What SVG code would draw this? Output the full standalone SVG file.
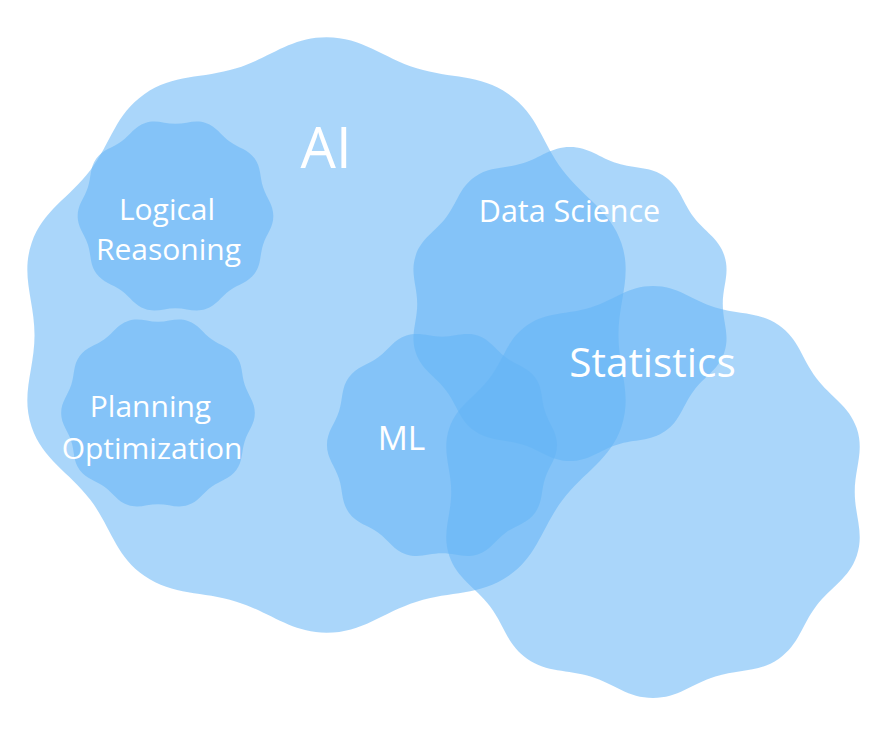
<svg xmlns="http://www.w3.org/2000/svg" xmlns:xlink="http://www.w3.org/1999/xlink" width="892" height="732" viewBox="0 0 892 732">
<style>
.blob{fill:#64b5f6;fill-opacity:0.55;stroke:none}
.lbl{fill:#ffffff;font-family:"Open Sans","Noto Sans","DejaVu Sans",sans-serif;text-anchor:middle}
</style>
<defs>
<path id="wavy" d="M0,-103 C12,-103 18.56,-95.97 29.97,-92.26 C41.38,-88.55 50.83,-90.38 60.54,-83.33 C70.25,-76.28 71.42,-66.73 78.47,-57.02 C85.52,-47.31 94.25,-43.24 97.96,-31.83 C101.67,-20.42 97,-12 97,0 C97,12 101.67,20.42 97.96,31.83 C94.25,43.24 85.52,47.31 78.47,57.02 C71.42,66.73 70.25,76.28 60.54,83.33 C50.83,90.38 41.38,88.55 29.97,92.26 C18.56,95.97 12,103 0,103 C-12,103 -18.56,95.97 -29.97,92.26 C-41.38,88.55 -50.83,90.38 -60.54,83.33 C-70.25,76.28 -71.42,66.73 -78.47,57.02 C-85.52,47.31 -94.25,43.24 -97.96,31.83 C-101.67,20.42 -97,12 -97,0 C-97,-12 -101.67,-20.42 -97.96,-31.83 C-94.25,-43.24 -85.52,-47.31 -78.47,-57.02 C-71.42,-66.73 -70.25,-76.28 -60.54,-83.33 C-50.83,-90.38 -41.38,-88.55 -29.97,-92.26 C-18.56,-95.97 -12,-103 0,-103 Z"/>
</defs>
<g id="ai">
<use xlink:href="#wavy" href="#wavy" class="blob" transform="translate(326.5 335) scale(3.01 2.89)"/>
<text class="lbl" x="326" y="168" font-size="56">AI</text>
</g>
<g id="logical-reasoning">
<use xlink:href="#wavy" href="#wavy" class="blob" transform="translate(175.5 216) rotate(18) scale(0.95)"/>
<text class="lbl" x="167" y="220" font-size="30">Logical</text>
<text class="lbl" x="168.5" y="260" font-size="30">Reasoning</text>
</g>
<g id="planning-optimization">
<use xlink:href="#wavy" href="#wavy" class="blob" transform="translate(158 413) rotate(18) scale(0.94)"/>
<text class="lbl" x="150.5" y="417" font-size="30">Planning</text>
<text class="lbl" x="152" y="459" font-size="30">Optimization</text>
</g>
<g id="data-science">
<use xlink:href="#wavy" href="#wavy" class="blob" transform="translate(570 304) scale(1.575 1.525)"/>
<text class="lbl" x="569.5" y="222" font-size="30.5">Data Science</text>
</g>
<g id="ml">
<use xlink:href="#wavy" href="#wavy" class="blob" transform="translate(442 445) rotate(18) scale(1.117)"/>
<text class="lbl" x="401.5" y="450" font-size="33.5">ML</text>
</g>
<g id="statistics">
<use xlink:href="#wavy" href="#wavy" class="blob" transform="translate(653 492) scale(2.08 2.0)"/>
<text class="lbl" x="652.5" y="377" font-size="40.5">Statistics</text>
</g>
<g id="connectors"></g>
</svg>
